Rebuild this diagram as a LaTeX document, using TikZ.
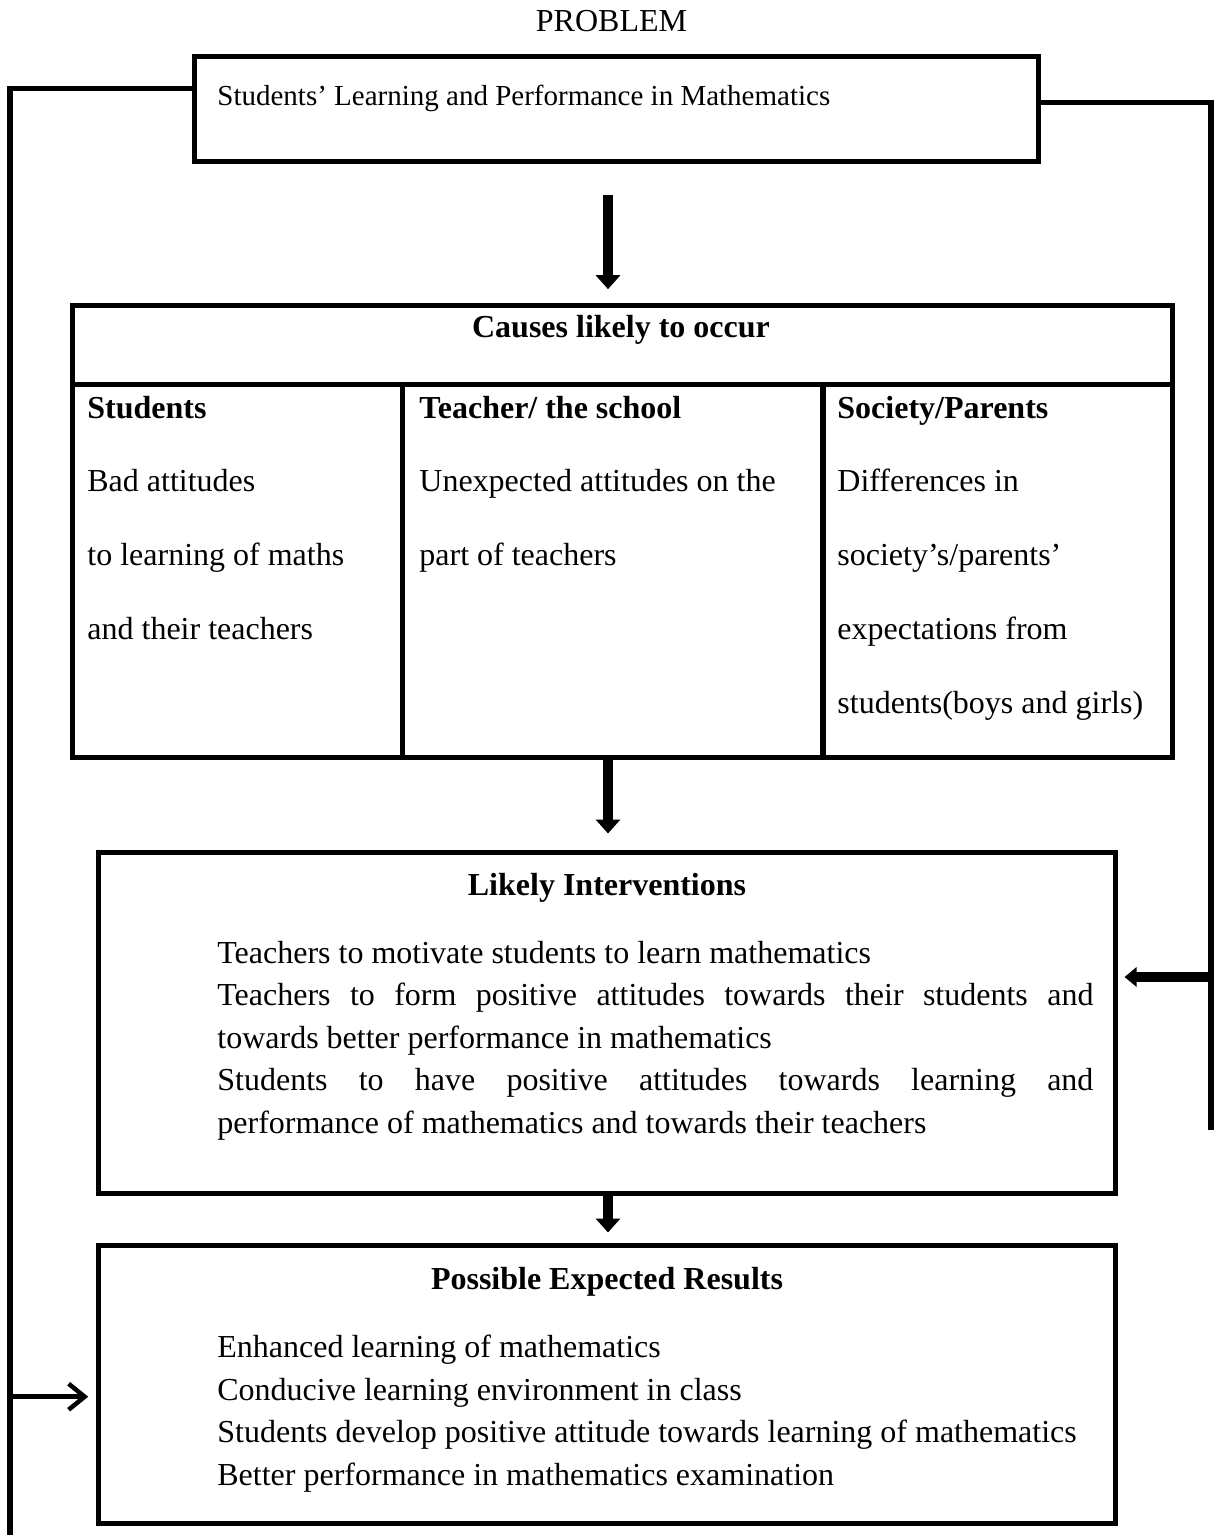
\documentclass[tikz,border=0pt]{standalone}
\usepackage{fontspec}
\setmainfont{Liberation Serif}
\usetikzlibrary{arrows.meta,calc}
\begin{document}
\begin{tikzpicture}[x=0.5pt,y=-0.5pt,
  frame/.style={draw,line width=2.5pt,inner sep=0pt},
  rule/.style={line width=2.5pt},
  conn/.style={line width=2.75pt,line join=miter},
  bigarr/.style={line width=5pt,-{Triangle[width=12pt,length=7pt]}},
  sidearr/.style={line width=5pt,-{Triangle[width=9.5pt,length=6pt]}},
  thinarr/.style={line width=2.25pt,-{Straight Barb[length=8pt,width=13pt,line width=2.25pt]}},
  txt/.style={anchor=base west,inner sep=0pt,font=\fontsize{16}{19}\selectfont},
  ttl/.style={anchor=base,inner sep=0pt,font=\fontsize{16}{19}\selectfont\bfseries},
  hd/.style={anchor=base west,inner sep=0pt,font=\fontsize{16}{19}\selectfont\bfseries}]
\useasboundingbox (0,0) rectangle (1217,1535);

% ---- boxes
\node[frame,minimum width=421.75pt,minimum height=52.25pt] (prob) at (616.25,109.25) {};
\node[frame,minimum width=549.75pt,minimum height=225.5pt] (causes) at (622.25,531.5) {};
\node[frame,minimum width=508.5pt,minimum height=170.5pt] (interv) at (607,1023) {};
\node[frame,minimum width=508.5pt,minimum height=138.75pt] (results) at (607,1384.25) {};

% ---- table rules inside the causes box
\coordinate (hdr) at (0,384);
\coordinate (c1) at (402.5,0);
\coordinate (c2) at (822.5,0);
\draw[rule] (causes.west |- hdr) -- (causes.east |- hdr);
\draw[rule] (c1 |- hdr) -- (c1 |- causes.south);
\draw[line width=3pt] (c2 |- hdr) -- (c2 |- causes.south);

% ---- texts
\node[anchor=base,inner sep=0pt,font=\fontsize{16}{19}\selectfont] (ptitle) at (611.5,32) {PROBLEM};
\node[anchor=base west,inner sep=0pt,font=\fontsize{14.5}{17}\selectfont] (ptext) at (217,106) {Students’ Learning and Performance in Mathematics};

\node[ttl] (ctitle) at (621,338) {Causes likely to occur};

\node[hd] (h1) at (87,418) {Students};
\node[txt] (s1) at (87,491) {Bad attitudes};
\node[txt] (s2) at (87,565) {to learning of maths};
\node[txt] (s3) at (87,639) {and their teachers};

\node[hd] (h2) at (419,418) {Teacher/ the school};
\node[txt] (t1) at (419,491) {Unexpected attitudes on the};
\node[txt] (t2) at (419,565) {part of teachers};

\node[hd] (h3) at (837,418) {Society/Parents};
\node[txt] (p1) at (837,491) {Differences in};
\node[txt] (p2) at (837,565) {society’s/parents’};
\node[txt] (p3) at (837,639) {expectations from};
\node[txt] (p4) at (837,713) {students(boys and girls)};

\node[ttl] (ititle) at (607,895) {Likely Interventions};
\node[txt] (i1) at (217,963) {Teachers to motivate students to learn mathematics};
\node[txt] (i2) at (217,1005.5) {\makebox[438pt][s]{Teachers to form positive attitudes towards their students and}};
\node[txt] (i3) at (217,1048) {towards better performance in mathematics};
\node[txt] (i4) at (217,1090.5) {\makebox[438pt][s]{Students to have positive attitudes towards learning and}};
\node[txt] (i5) at (217,1133) {performance of mathematics and towards their teachers};

\node[ttl] (rtitle) at (607,1289) {Possible Expected Results};
\node[txt] (r1) at (217,1357.5) {Enhanced learning of mathematics};
\node[txt] (r2) at (217,1400) {Conducive learning environment in class};
\node[txt] (r3) at (217,1442.5) {Students develop positive attitude towards learning of mathematics};
\node[txt] (r4) at (217,1485) {Better performance in mathematics examination};

% ---- vertical arrows
\coordinate (ax) at (608,0);
\draw[bigarr,shorten <=15.5pt,shorten >=7.15pt] (prob.south -| ax) -- (causes.north -| ax);
\draw[bigarr,shorten >=8.25pt] (causes.south -| ax) -- (interv.north -| ax);
\draw[bigarr,shorten >=5.25pt] (interv.south -| ax) -- (results.north -| ax);

% ---- right feedback line
\coordinate (rtop) at (1211,102.7);
\coordinate (rend) at (1211,1130);
\coordinate (rarr) at (1213,977);
\draw[conn] (prob.east |- rtop) -- (rtop) -- (rend);
\draw[sidearr,shorten >=3.25pt] (rarr) -- (interv.east |- rarr);

% ---- left feedback line
\coordinate (ltop) at (10,88.5);
\coordinate (lbot) at (10,1535);
\coordinate (larr) at (10,1396.7);
\draw[conn] (prob.west |- ltop) -- (ltop) -- (lbot);
\draw[thinarr,shorten >=3.9pt] (larr) -- (results.west |- larr);
\end{tikzpicture}
\end{document}
